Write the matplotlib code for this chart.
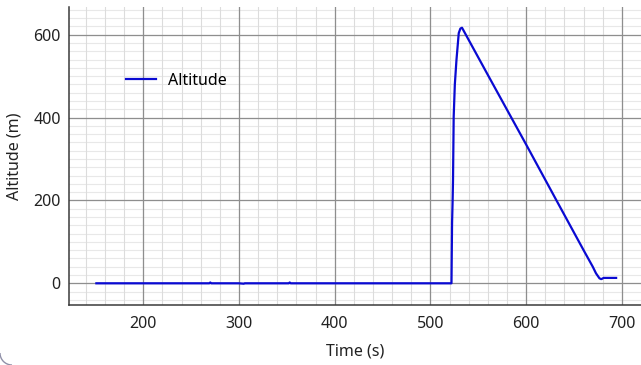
import numpy as np
import matplotlib
matplotlib.use("Agg")
import matplotlib.pyplot as plt
from matplotlib.patches import Arc

plt.rcParams['font.family'] = ['Noto Sans', 'DejaVu Sans']

# flight log
time_s = [151, 200, 269, 270, 271, 300, 305, 306, 352, 353, 354, 400, 450, 500,
          522, 522.6, 523.2, 523.6, 524.3, 525.5, 527.2, 529.6, 531.3, 533,
          560, 600, 631, 660, 669.6, 673, 676.6, 678.5, 681, 694]
altitude_m = [0, 0, 0, 2, 0, 0, -1, 0, 0, 2, 0, 0, 0, 0,
              0, 145, 200, 249, 402, 480, 539, 604, 615, 617,
              503, 335, 203, 80, 40, 24, 12, 10, 13, 13]

x_ticks = [200, 300, 400, 500, 600, 700]
y_ticks = [0, 200, 400, 600]
x_minor = np.arange(140, 720, 20)
y_minor = np.arange(-40, 667, 20)

fig = plt.figure(figsize=(6.41, 3.65), dpi=100)
ax = fig.add_axes([69 / 641, 1 - 305 / 365, 572 / 641, 298 / 365])

# grid by hand so the major lines sit on top of the minor ones
for v in y_minor:
    ax.axhline(v, color='#e8e8e8', lw=0.8, zorder=0.5)
for v in x_minor:
    ax.axvline(v, color='#dcdcdc', lw=0.8, zorder=0.6)
for v in y_ticks:
    ax.axhline(v, color='#8e8e8e', lw=0.9, zorder=0.8)
for v in x_ticks:
    ax.axvline(v, color='#8e8e8e', lw=0.9, zorder=0.8)

ax.plot(time_s, altitude_m, color='#0a0ad2', lw=1.6, label='Altitude', zorder=3)

ax.set_xlim(122.4, 720)
ax.set_ylim(-52.4, 667)
ax.set_xticks(x_ticks)
ax.set_yticks(y_ticks)

ax.tick_params(which='both', length=0, labelsize=11.5, labelcolor='#222222')
ax.tick_params(axis='y', pad=6)
ax.tick_params(axis='x', pad=8)

for s in ['top', 'right']:
    ax.spines[s].set_visible(False)
for s in ['left', 'bottom']:
    ax.spines[s].set_color('#3a3a3a')
    ax.spines[s].set_linewidth(1.1)

ax.set_xlabel('Time (s)', fontsize=11.5, color='#222222', labelpad=8)
ax.set_ylabel('Altitude (m)', fontsize=11.5, color='#222222', labelpad=8)

ax.legend(loc='center left', bbox_to_anchor=((126 - 69) / 572, (305 - 81) / 298),
          frameon=False, fontsize=11.5, handlelength=1.9, handletextpad=0.75,
          borderpad=0, borderaxespad=0)

# rounded window corner bottom-left
fig.add_artist(Arc((12, 12), 24, 24, theta1=180, theta2=270,
                   transform=None, color='#9090a8', lw=1))

fig.savefig('out.png', dpi=100)
